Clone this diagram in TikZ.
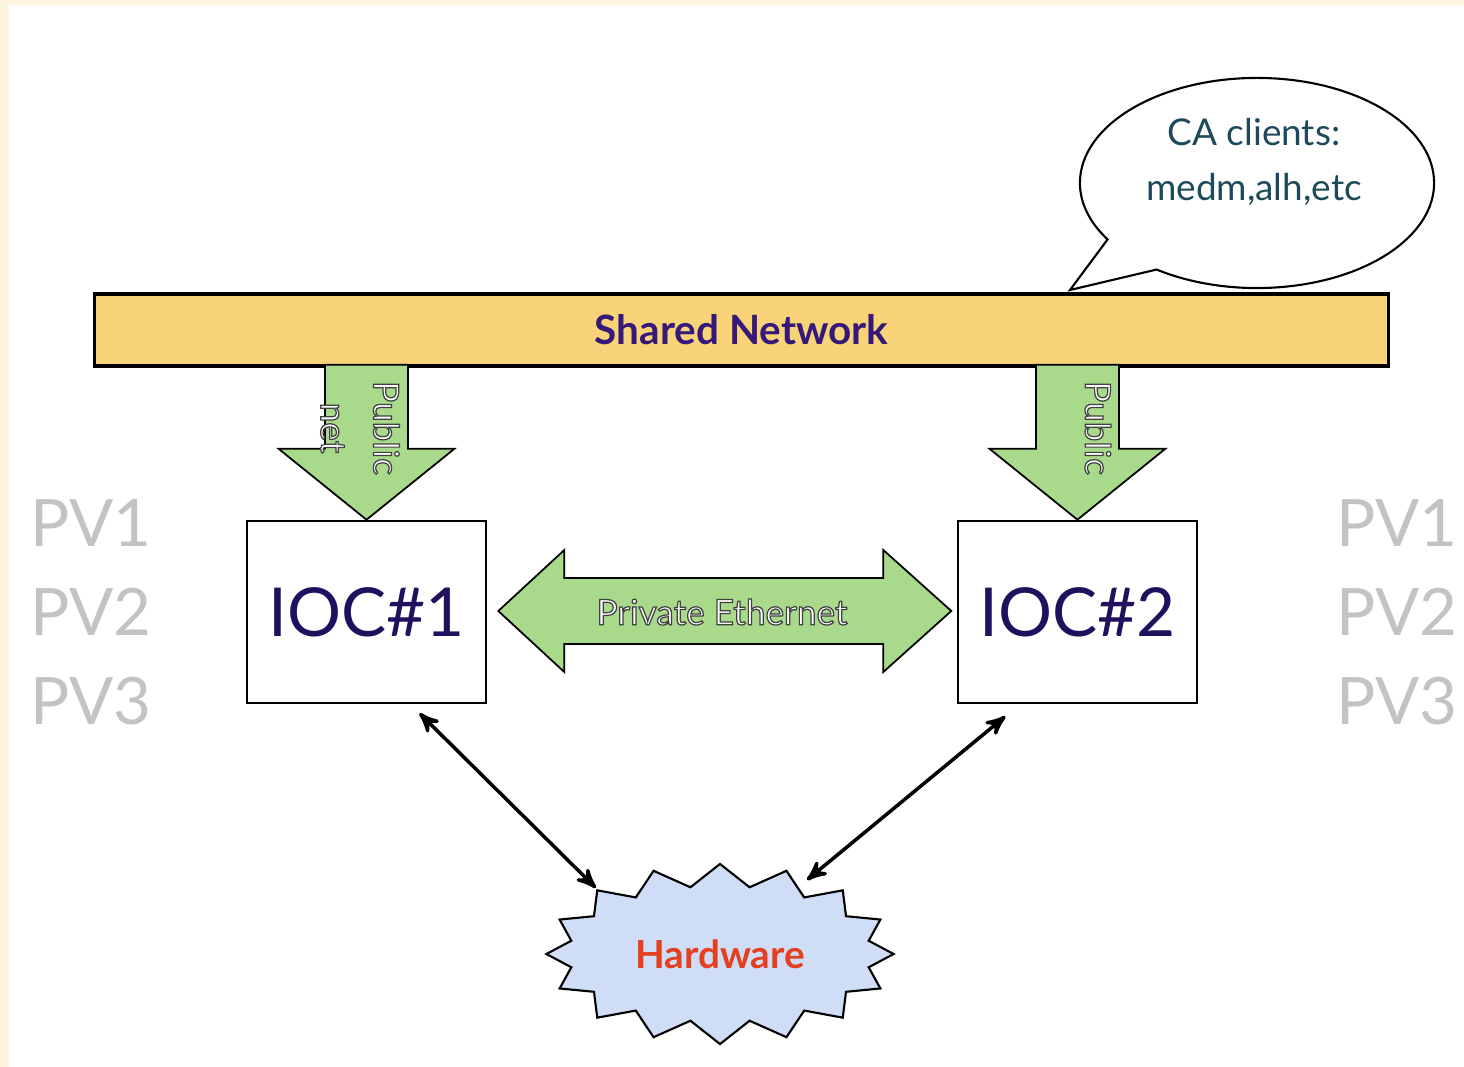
\documentclass[tikz,border=0pt]{standalone}
\usepackage{fontspec}
\setmainfont{Lato}
\usetikzlibrary{arrows,shapes.symbols,shapes.callouts}

\definecolor{slidecream}{HTML}{FFF5DF}
\definecolor{netyellow}{HTML}{F9D377}
\definecolor{pipegreen}{HTML}{A9DA8B}
\definecolor{hwblue}{HTML}{CFDDF7}
\definecolor{hwred}{HTML}{E2401F}
\definecolor{iocink}{HTML}{20105E}
\definecolor{netink}{HTML}{35197A}
\definecolor{caink}{HTML}{1D4A5A}
\definecolor{pvgrey}{HTML}{C3C3C3}

% white letters with a dark rim (fill, then stroke)
\newcommand{\rimtext}[1]{\special{pdf:literal direct 2 Tr 0.35 w 0.25 G}#1\special{pdf:literal direct 0 Tr}}

\tikzset{
  netbar/.style={draw,line width=0.9pt,fill=netyellow,minimum width=12.93cm,
    minimum height=0.72cm,text=netink,font=\fontsize{11.5}{14}\selectfont\bfseries},
  iocbox/.style={draw,line width=0.7pt,fill=white,minimum width=2.39cm,
    minimum height=1.82cm,text=iocink,font=\fontsize{19.2}{24}\selectfont},
  pipe/.style={draw,line width=0.5pt,fill=pipegreen},
  pipetext/.style={text=white,font=\fontsize{10}{15}\selectfont,align=center},
  hwcloud/.style={starburst,starburst points=16,starburst point height=0.22cm,
    random starburst=0,draw,line width=0.6pt,fill=hwblue,minimum width=3.47cm,
    minimum height=1.8cm,text=hwred,font=\fontsize{11}{13}\selectfont\bfseries},
  bubble/.style={ellipse callout,draw,line width=0.6pt,fill=white,
    minimum width=3.54cm,minimum height=2.1cm,callout pointer arc=23},
  catext/.style={text=caink,font=\fontsize{10.5}{15.5}\selectfont,align=center},
  pvlist/.style={text=pvgrey,font=\fontsize{18.6}{25.3}\selectfont,align=left,
    anchor=west,inner sep=0pt},
  hwlink/.style={<->,>=stealth',line width=1pt}
}

\begin{document}
\begin{tikzpicture}[x=0.01cm,y=-0.01cm,node distance=7.105cm]
      \useasboundingbox (0,0) rectangle (1464,1067);
      % slide background
      \fill[slidecream] (0,0) rectangle (1464,1067);
      \fill[white] (9,5) rectangle (1464,1067);

      \node[netbar] (net) at (741.5,330) {Shared Network};
      \node[bubble,callout absolute pointer={(1070,290)}] (ca) at (1257,183) {};
      \node[catext] (catxt) at (1254,162) {CA clients:\\medm,alh,etc};

      \node[iocbox] (ioc1) at (366.5,612) {IOC\#1};
      \node[iocbox] (ioc2) [right of=ioc1] {IOC\#2};
      \node[hwcloud] (hw) at (720,954) {Hardware};

      \node[pvlist] (pvleft) at (30,612) {PV1\\PV2\\PV3};
      \node[pvlist] (pvright) at (1336,612) {PV1\\PV2\\PV3};

      % public net pipes
      \draw[pipe] (ioc1.north) -- ++(-88,-71) -- ++(46.5,0) -- ++(0,-84)
        -- ++(83,0) -- ++(0,84) -- ++(46.5,0) -- cycle;
      \draw[pipe] (ioc2.north) -- ++(-88,-71) -- ++(46.5,0) -- ++(0,-84)
        -- ++(83,0) -- ++(0,84) -- ++(46.5,0) -- cycle;
      \node[pipetext,rotate=-90] (pub1) at (360,428) {\rimtext{Public}\\\rimtext{net}};
      \node[pipetext,rotate=-90] (pub2) at (1098,428) {\rimtext{Public}};

      % private ethernet
      \draw[pipe] (ioc1.east) ++(11,-1) -- ++(66,-61) -- ++(0,28) -- ++(319,0)
        -- ++(0,-28) -- ++(68,61) -- ++(-68,61) -- ++(0,-28) -- ++(-319,0)
        -- ++(0,28) -- cycle;
      \node[pipetext] (priv) at (722,612) {\rimtext{Private Ethernet}};

      \draw[hwlink] ([xshift=0.53cm,yshift=-0.09cm]ioc1.south)
        -- ([xshift=-1.24cm,yshift=0.66cm]hw.center);
      \draw[hwlink] ([xshift=-0.72cm,yshift=-0.12cm]ioc2.south)
        -- ([xshift=0.87cm,yshift=0.74cm]hw.center);
\end{tikzpicture}
\end{document}
